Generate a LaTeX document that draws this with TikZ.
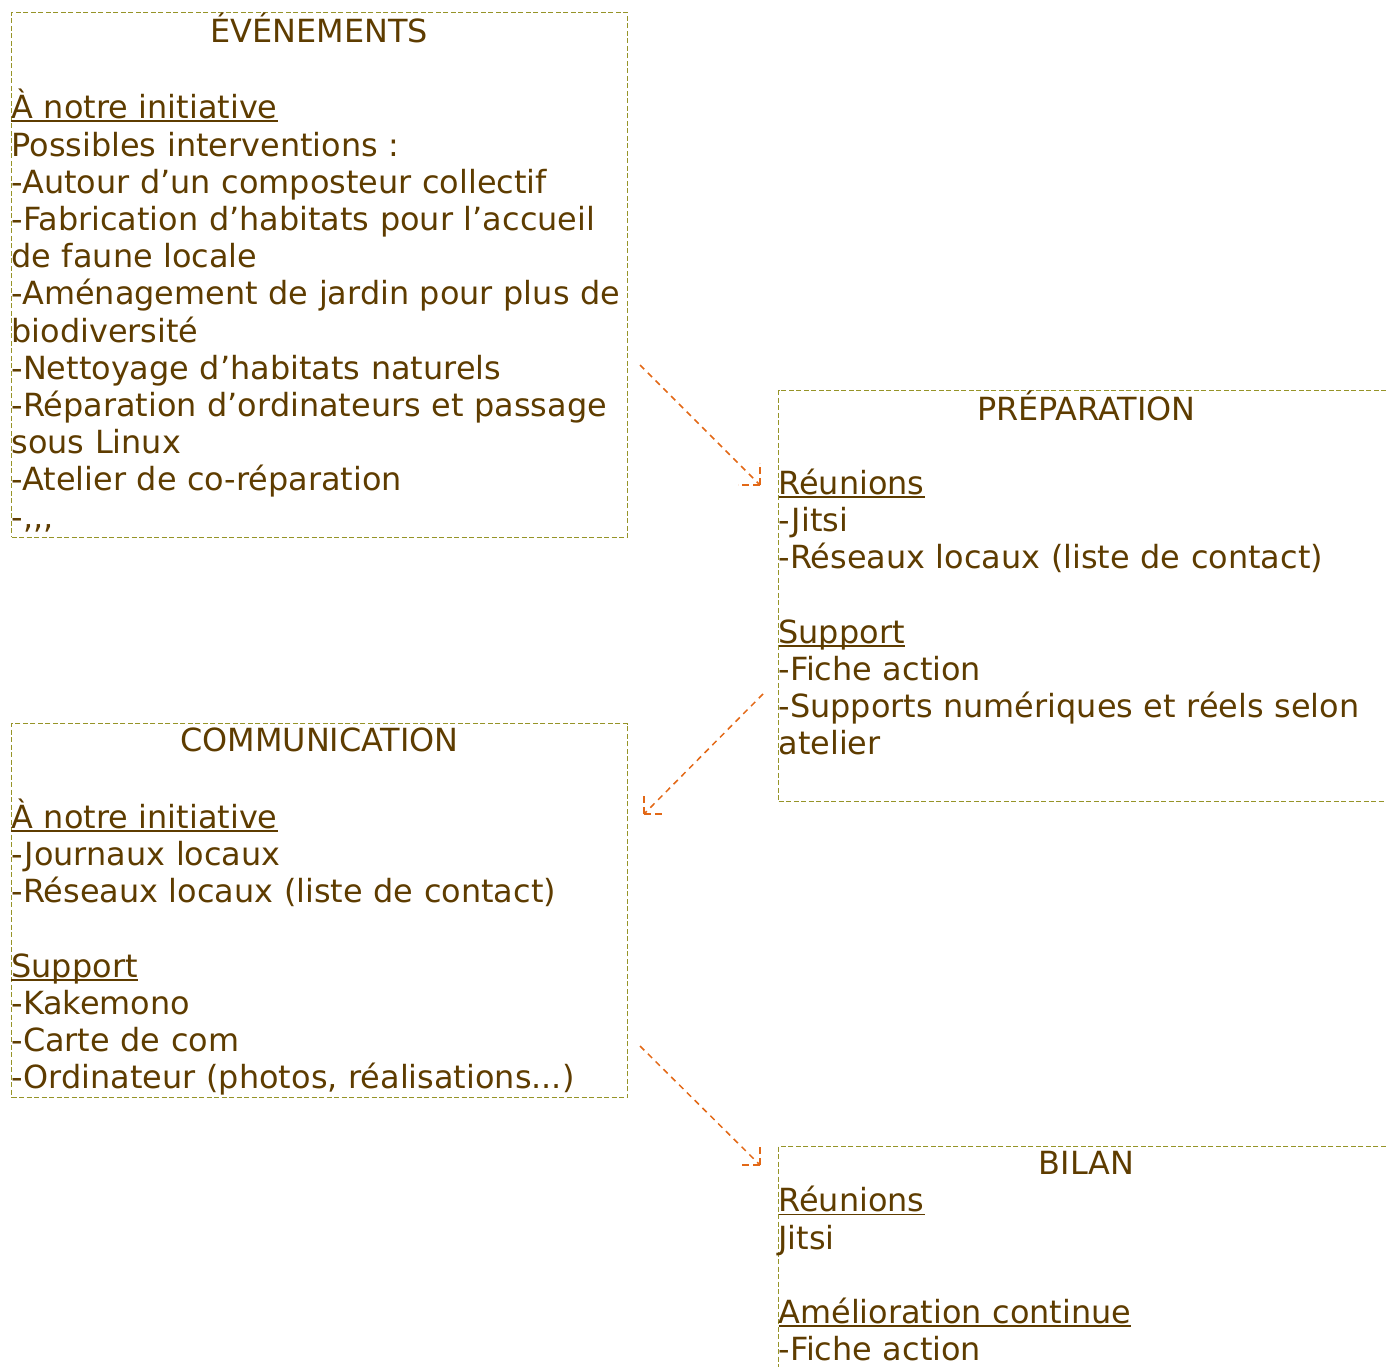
\documentclass[tikz,border=0pt]{standalone}
\usepackage{fontspec}
\setmainfont[Ligatures=NoCommon]{DejaVu Sans}
\definecolor{txtbrown}{RGB}{94,60,0}
\definecolor{boxolive}{RGB}{150,148,40}
\definecolor{arrorange}{RGB}{226,104,22}
\newcommand\lnstrut{\rule[-9pt]{0pt}{37.2pt}}
\newcommand\ulx[1]{\setbox0\hbox{#1}\rlap{\rule[-3.4pt]{\wd0}{1.8pt}}\box0}
\newcommand\ttl[1]{\makebox[616pt][c]{\lnstrut#1}}
\tikzset{
  panel/.style={draw=boxolive, line width=1pt, dash pattern=on 5pt off 2.5pt,
    anchor=north west, inner sep=0pt, text width=616pt, align=left,
    text=txtbrown, font=\fontsize{31.9}{37.2}\selectfont},
  conn/.style={draw=arrorange, line width=1.5pt, dash pattern=on 6pt off 5pt},
  head/.style={draw=arrorange, line width=1.5pt, dash pattern=on 7pt off 4pt}
}
\begin{document}
\begin{tikzpicture}[x=1pt,y=-1pt]
\useasboundingbox (0,0) rectangle (1386,1367);
\clip (0,0) rectangle (1386,1367);
\node[panel] (ev) at (11,12) {\ttl{ÉVÉNEMENTS}\\
\lnstrut\\
\lnstrut\ulx{À notre initiative}\\
\lnstrut Possibles interventions :\\
\lnstrut -Autour d’un composteur collectif\\
\lnstrut -Fabrication d’habitats pour l’accueil\\
\lnstrut de faune locale\\
\lnstrut -Aménagement de jardin pour plus de\\
\lnstrut biodiversité\\
\lnstrut -Nettoyage d’habitats naturels\\
\lnstrut -Réparation d’ordinateurs et passage\\
\lnstrut sous Linux\\
\lnstrut -Atelier de co-réparation\\
\lnstrut -{,}{,}{,}};
\node[panel] (prep) at (778,390) {\ttl{PRÉPARATION}\\
\lnstrut\\
\lnstrut\ulx{Réunions}\\
\lnstrut -Jitsi\\
\lnstrut -Réseaux locaux (liste de contact)\\
\lnstrut\\
\lnstrut\ulx{Support}\\
\lnstrut -Fiche action\\
\lnstrut -Supports numériques et réels selon\\
\lnstrut atelier\\
\lnstrut};
\node[panel] (com) at (11,723) {\ttl{COMMUNICATION}\\
\lnstrut\\
\lnstrut\ulx{À notre initiative}\\
\lnstrut -Journaux locaux\\
\lnstrut -Réseaux locaux (liste de contact)\\
\lnstrut\\
\lnstrut\ulx{Support}\\
\lnstrut -Kakemono\\
\lnstrut -Carte de com\\
\lnstrut -Ordinateur (photos, réalisations...)};
\node[panel] (bil) at (778,1146) {\ttl{BILAN}\\
\lnstrut\ulx{Réunions}\\
\lnstrut Jitsi\\
\lnstrut\\
\lnstrut\ulx{Amélioration continue}\\
\lnstrut -Fiche action\\
\lnstrut};
% connectors
\coordinate (a1s) at (640,365);
\coordinate (a1e) at (760,485);
\coordinate (a2s) at (763,694);
\coordinate (a2e) at (644,814);
\coordinate (a3s) at (640,1046);
\coordinate (a3e) at (760,1165);
\draw[conn] (a1s) -- (a1e);
\draw[head] (a1e) -- ++(0,-22);
\draw[head] (a1e) -- ++(-22,0);
\draw[conn] (a2s) -- (a2e);
\draw[head] (a2e) -- ++(0,-21);
\draw[head] (a2e) -- ++(21,0);
\draw[conn] (a3s) -- (a3e);
\draw[head] (a3e) -- ++(0,-21);
\draw[head] (a3e) -- ++(-21,0);
\end{tikzpicture}
\end{document}
